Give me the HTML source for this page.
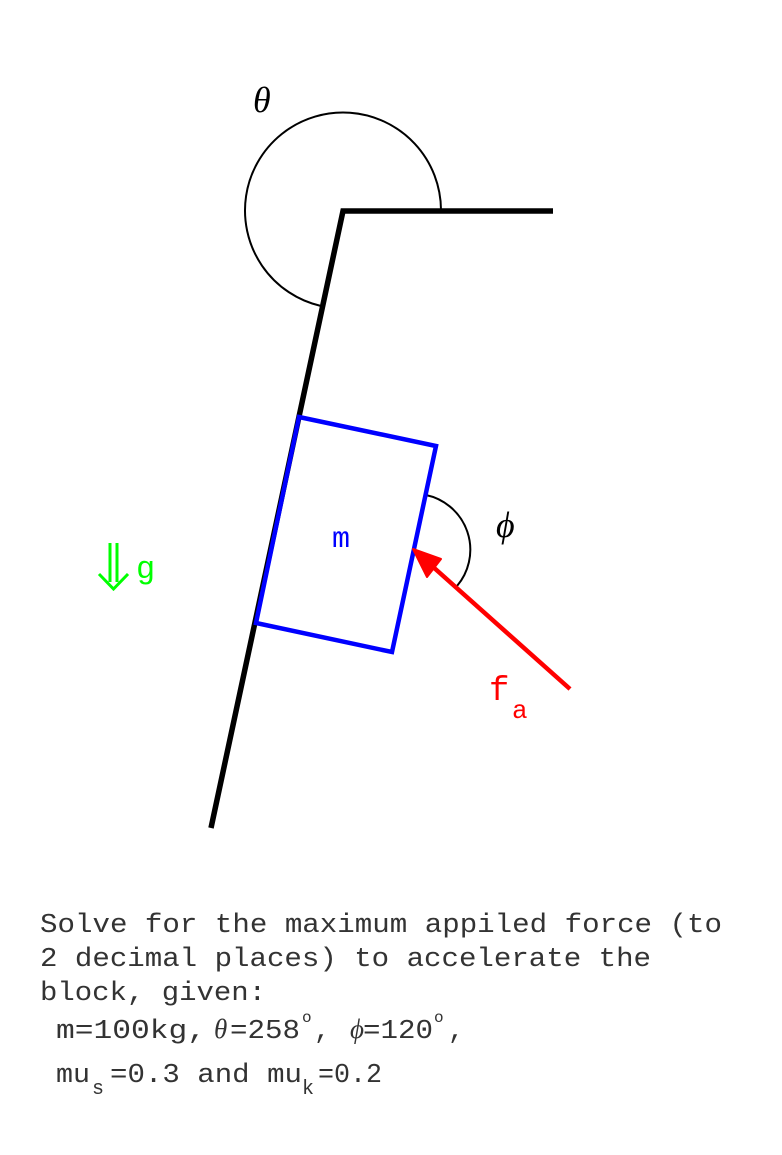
<!DOCTYPE html>
<html><head><meta charset="utf-8"><style>
html,body{margin:0;padding:0;background:#fff;width:782px;height:1155px;overflow:hidden}
svg{display:block}
.mono{font-family:"Liberation Mono","DejaVu Sans Mono",monospace}
.it{font-family:"Liberation Serif",serif;font-style:italic}
</style></head><body>
<svg width="782" height="1155" viewBox="0 0 782 1155" xmlns="http://www.w3.org/2000/svg">
<path d="M441,210 A98,98 0 1 0 321,306" fill="none" stroke="#000" stroke-width="2"/>
<polyline points="553,211 343,211 211,828" fill="none" stroke="#000" stroke-width="5.5" stroke-linejoin="miter"/>
<path d="M426,495 A56,56 0 0 1 457,586" fill="none" stroke="#000" stroke-width="2"/>
<polygon points="299,417 436,446 392,652 256,623" fill="none" stroke="#0000ff" stroke-width="4.5"/>
<line x1="570" y1="689" x2="432" y2="566" stroke="#ff0000" stroke-width="4.5"/>
<polygon points="413,549 441,559 427,577" fill="#ff0000" stroke="#ff0000" stroke-width="2" stroke-linejoin="round"/>
<text x="253" y="112" class="it" font-size="36">θ</text>
<text x="496" y="537" class="it" font-size="36">ϕ</text>
<text x="332" y="547" class="mono" font-size="30" fill="#0000ff">m</text>
<g stroke="#00ff00" stroke-width="3" fill="none">
<line x1="110" y1="543" x2="110" y2="582"/>
<line x1="117" y1="543" x2="117" y2="582"/>
<polyline points="99,574 113.5,589 128,574"/>
</g>
<text x="136" y="578" class="mono" font-size="32" fill="#00ff00">g</text>
<text x="489" y="700" class="mono" font-size="34" fill="#ff0000">f</text>
<text x="512" y="718" class="mono" font-size="26" fill="#ff0000">a</text>
<g class="mono" font-size="27" fill="#333">
<text x="40" y="932" textLength="682" lengthAdjust="spacingAndGlyphs">Solve for the maximum appiled force (to</text>
<text x="40" y="966" textLength="611" lengthAdjust="spacingAndGlyphs">2 decimal places) to accelerate the</text>
<text x="40" y="1000" textLength="226" lengthAdjust="spacingAndGlyphs">block, given:</text>
<text x="56" y="1038" textLength="150" lengthAdjust="spacingAndGlyphs">m=100kg,</text>
<text x="214" y="1038" class="it" font-size="27">θ</text>
<text x="230" y="1038" textLength="70" lengthAdjust="spacingAndGlyphs">=258</text>
<text x="302" y="1022" font-size="16">o</text>
<text x="314" y="1038">,</text>
<text x="350" y="1038" class="it" font-size="27">ϕ</text>
<text x="363" y="1038" textLength="70" lengthAdjust="spacingAndGlyphs">=120</text>
<text x="434" y="1022" font-size="16">o</text>
<text x="448" y="1038">,</text>
<text x="56" y="1082" textLength="34" lengthAdjust="spacingAndGlyphs">mu</text>
<text x="92" y="1094" font-size="20">s</text>
<text x="110" y="1082" textLength="192" lengthAdjust="spacingAndGlyphs">=0.3 and mu</text>
<text x="302" y="1094" font-size="20">k</text>
<text x="318" y="1082" textLength="64" lengthAdjust="spacingAndGlyphs">=0.2</text>
</g>
</svg>
</body></html>
